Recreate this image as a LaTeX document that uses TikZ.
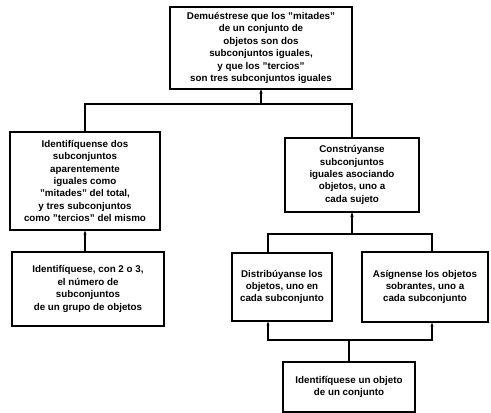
\documentclass[tikz,border=0pt]{standalone}
\usepackage{fontspec}
\setmainfont{Liberation Sans}
\usepackage{tikz}
\usetikzlibrary{arrows.meta,positioning}

\begin{document}
\begin{tikzpicture}[x=1pt,y=-1pt,
      box/.style={draw, line width=1.3pt, inner sep=2pt,
                  font=\fontsize{9.8}{12.4}\selectfont\bfseries, align=center},
      arr/.style={-{Stealth[length=4pt,width=3pt]}, line width=1.1pt}
  ]
    \useasboundingbox (0,0) rectangle (491,413);
    \node[box, minimum width=182pt, minimum height=82pt] (ttop) at (261,48)
      {Demuéstrese que los "mitades"\\ de un conjunto de\\ objetos son dos\\ subconjuntos iguales,\\ y que los "tercios"\\ son tres subconjuntos iguales};
    \node[box, minimum width=150pt, minimum height=98pt] (ident) at (85,181)
      {Identifíquense dos\\ subconjuntos\\ aparentemente\\ iguales como\\ "mitades" del total,\\ y tres subconjuntos\\ como "tercios" del mismo};
    \node[box, minimum width=152pt, minimum height=74pt] (numero) at (88,289)
      {Identifíquese, con 2 o 3,\\ el número de\\ subconjuntos\\ de un grupo de objetos};
    \node[box, minimum width=134pt, minimum height=74pt] (constr) at (352,175)
      {Constrúyanse\\ subconjuntos\\ iguales asociando\\ objetos, uno a\\ cada sujeto};
    \node[box, minimum width=100pt, minimum height=68pt] (distr) at (282,287)
      {Distribúyanse los\\ objetos, uno en\\ cada subconjunto};
    \node[box, minimum width=126pt, minimum height=70pt] (asign) at (425,287)
      {Asígnense los objetos\\ sobrantes, uno a\\ cada subconjunto};
    \node[box, minimum width=132pt, minimum height=50pt] (objeto) at (349,387)
      {Identifíquese un objeto\\ de un conjunto};
    % junctions
    \coordinate (jtop) at (261,104);
    \coordinate (dl) at (268,234);
    \coordinate (dr) at (432,234);
    \coordinate (bl) at (268,340);
    \coordinate (br) at (432,340);
    \draw[arr] (ident.north) |- (jtop) -- (ttop.south);
    \draw[arr] (constr.north) |- (jtop) -- (ttop.south);
    \draw[arr] (numero.north -| ident.north) -- (ident.south);
    \draw[arr] (dl |- distr.north) -- (dl) -| (constr.south);
    \draw[arr] (dr |- asign.north) -- (dr) -| (constr.south);
    \draw[arr] (objeto.north) |- (bl) -- (bl |- distr.south);
    \draw[arr] (objeto.north) |- (br) -- (br |- asign.south);
  \end{tikzpicture}
\end{document}
